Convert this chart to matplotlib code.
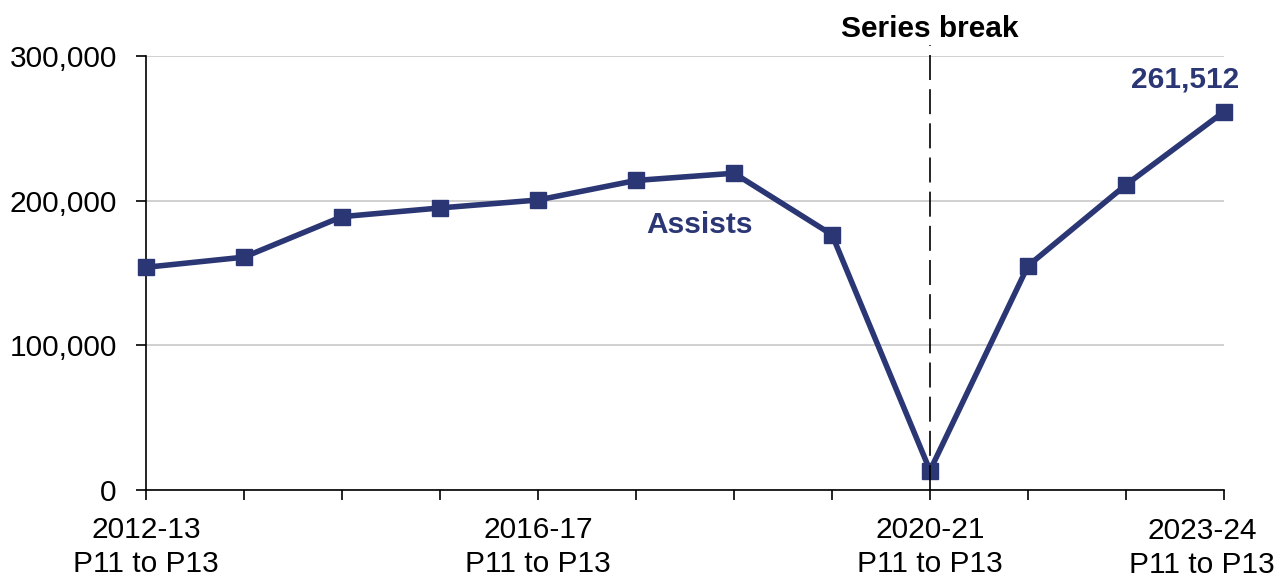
import matplotlib
matplotlib.use("Agg")
import matplotlib.pyplot as plt
import numpy as np

plt.rcParams['font.family'] = ['Liberation Sans', 'DejaVu Sans']

years = ["2012-13", "2013-14", "2014-15", "2015-16", "2016-17", "2017-18",
         "2018-19", "2019-20", "2020-21", "2021-22", "2022-23", "2023-24"]
assists = [154000, 161000, 189000, 195000, 200500, 214000,
           219000, 176500, 13500, 155000, 211000, 261512]
shown_labels = ["2012-13\nP11 to P13", "", "", "", "2016-17\nP11 to P13", "", "", "",
                "2020-21\nP11 to P13", "", "", ""]
last_label = "2023-24\nP11 to P13"

navy = "#2b3674"
fs = 21.5

fig = plt.figure(figsize=(12.81, 5.8), dpi=100)
ax = fig.add_axes([0.114, 0.155, 0.8415, 0.7484])

x = np.arange(len(years))
ax.plot(x, assists, color=navy, lw=4, marker="s", markersize=12,
        solid_joinstyle="round", clip_on=False, zorder=6)

# series break line
brk = years.index("2020-21")
ax.plot([brk, brk], [0, 307500], color="black", lw=1.2, ls=(0, (15, 5.5)),
        clip_on=False, zorder=7)
ax.text(brk, 318500, "Series break", ha="center", va="center",
        fontsize=fs, fontweight="bold")

ax.text(5.65, 183000, "Assists", color=navy, ha="center", va="center",
        fontsize=fs, fontweight="bold")
ax.text(10.6, 283500, f"{assists[-1]:,}", color=navy, ha="center", va="center",
        fontsize=fs, fontweight="bold")

ax.set_xlim(0, len(years) - 1)
ax.set_ylim(0, 300000)
ax.set_yticks([0, 100000, 200000, 300000])
ax.set_yticklabels([f"{v:,}" for v in [0, 100000, 200000, 300000]])
ax.set_xticks(x)
ax.set_xticklabels(shown_labels, linespacing=1.25)
ax.tick_params(axis="both", labelsize=fs, length=7, width=1.2, direction="out")
ax.tick_params(axis="x", pad=12)
ax.tick_params(axis="y", pad=14)

# last category label nudged left so it fits, like the original
ax.annotate(last_label, xy=(len(years) - 1, 0), xycoords=("data", "axes fraction"),
            xytext=(-16, -19.5), textcoords="offset points", ha="center", va="top",
            fontsize=fs, linespacing=1.25)

ax.grid(axis="y", color="#c8c8c8", lw=1.2)
ax.set_axisbelow(True)
for s in ["top", "right"]:
    ax.spines[s].set_visible(False)
for s in ["left", "bottom"]:
    ax.spines[s].set_linewidth(1.2)
    ax.spines[s].set_zorder(5)

fig.savefig("out.png", dpi=100)
